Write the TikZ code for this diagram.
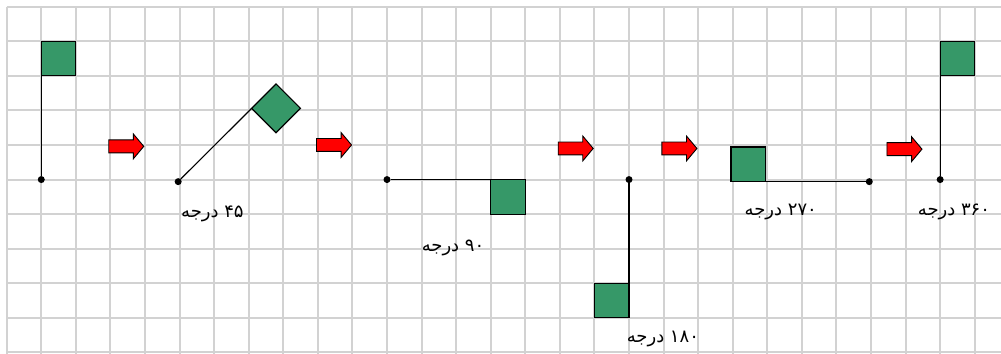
\documentclass[tikz,border=0pt]{standalone}
\usepackage{fontspec}
\usetikzlibrary{shapes.arrows, positioning}
\newfontfamily\persianfont[Script=Arabic]{DejaVu Sans}
\TeXXeTstate=1
\definecolor{flaggreen}{RGB}{54,152,104}
\definecolor{gridgray}{RGB}{210,210,210}

\begin{document}
\begin{tikzpicture}[
    x=34.57pt, y=-34.57pt,
    gridline/.style={draw=gridgray, line width=2pt},
    flag/.style={rectangle, draw, line width=1.2pt, fill=flaggreen, minimum size=34.57pt, inner sep=0pt, outer sep=0pt},
    pivot/.style={circle, fill=black, minimum size=7pt, inner sep=0pt},
    pole/.style={line width=1.2pt},
    turnarrow/.style={single arrow, draw, line width=0.9pt, fill=red, minimum height=35pt, inner xsep=0pt, inner ysep=6pt, single arrow head extend=6pt, single arrow tip angle=100},
    anglelabel/.style={font=\persianfont\fontsize{18}{20}\selectfont, inner sep=0pt}
]
\useasboundingbox (-0.194,-0.194) rectangle (28.76,10.02);
\foreach \col in {0,...,28}
    \draw[gridline] (\col,0) -- (\col,10.2);
\foreach \row in {0,...,10}
    \draw[gridline] (0,\row) -- (28.9,\row);

\node[pivot] (dot1) at (1,5) {};
\node[flag] (flag1) at (1.5,1.5) {};
\draw[pole] (dot1) -- (flag1.north west);

\node[pivot] (dot2) at (4.96,5.06) {};
\node[flag, rotate=45] (flag2) at (7.79,2.94) {};
\draw[pole] (dot2) -- (flag2.north west);

\node[pivot] (dot3) at (11,5) {};
\node[flag] (flag3) at (14.5,5.5) {};
\draw[pole] (dot3) -- (flag3.north east);

\node[pivot] (dot4) at (18,5) {};
\node[flag] (flag4) at (17.5,8.5) {};
\draw[pole] (dot4) -- (flag4.south east);

\node[pivot] (dot5) at (24.95,5.06) {};
\node[flag] (flag5) at (21.45,4.56) {};
\draw[pole] (dot5) -- (flag5.south west);

\node[pivot] (dot6) at (27,5) {};
\node[flag] (flag6) at (27.5,1.5) {};
\draw[pole] (dot6) -- (flag6.north west);

\node[turnarrow] (turn1) at (3.38,4.04) {};
\node[turnarrow] (turn2) at (9.39,4.0) {};
\node[turnarrow] (turn3) at (16.38,4.1) {};
\node[turnarrow] (turn4) at (19.38,4.1) {};
\node[turnarrow] (turn5) at (25.89,4.12) {};

\node[anglelabel] (deg45) at (5.95,6.0) {\beginR ۴۵ درجه\endR};
\node[anglelabel] (deg90) at (12.91,6.97) {\beginR ۹۰ درجه\endR};
\node[anglelabel] (deg180) at (18.98,9.62) {\beginR ۱۸۰ درجه\endR};
\node[anglelabel] (deg270) at (22.39,5.94) {\beginR ۲۷۰ درجه\endR};
\node[anglelabel] (deg360) at (27.4,5.94) {\beginR ۳۶۰ درجه\endR};

\end{tikzpicture}
\end{document}
